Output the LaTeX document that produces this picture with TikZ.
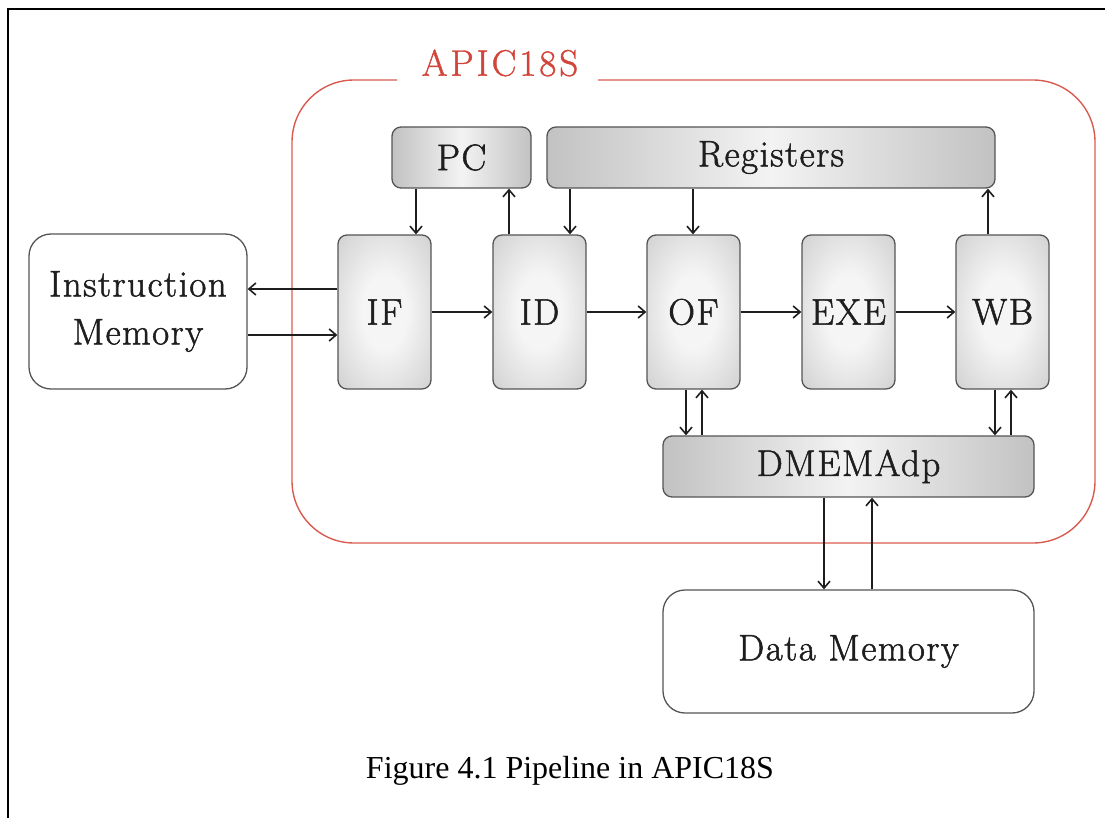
\documentclass[tikz,border=0pt]{standalone}
\usepackage{fontspec}
\usetikzlibrary{arrows.meta}
\newfontfamily\boxfont{Latin Modern Roman}[LetterSpace=4, FakeBold=1.4]
\newfontfamily\titlefont{Latin Modern Roman}[LetterSpace=8, FakeBold=1.2]
\newfontfamily\capfont{Liberation Serif}

\definecolor{inkc}{HTML}{1E1E1E}
\definecolor{edgec}{HTML}{555555}
\definecolor{apicred}{HTML}{D95A4E}
\definecolor{apiclabel}{HTML}{D2453A}
\definecolor{stagein}{HTML}{F5F5F5}
\definecolor{stageout}{HTML}{BBBBBB}
\definecolor{barside}{HTML}{C2C2C2}
\definecolor{barmid}{HTML}{F3F3F3}

% soft glow for the pipeline stage boxes
\pgfdeclareradialshading{stageglow}{\pgfpoint{0bp}{0bp}}{color(0bp)=(stagein); color(12bp)=(stagein); color(50bp)=(stageout); color(75bp)=(stageout)}

\tikzset{
  labelfont/.style={font={\boxfont\fontsize{37}{48}\selectfont}, text=inkc},
  stage/.style={labelfont, draw=edgec, line width=1.3pt, rounded corners=9pt,
    shading=stageglow, minimum width=93pt, minimum height=154pt, inner sep=0pt},
  bar/.style={labelfont, draw=edgec, line width=1.3pt, rounded corners=9pt,
    left color=barside, right color=barside, middle color=barmid,
    minimum height=61pt, inner sep=0pt},
  memory/.style={labelfont, draw=edgec, line width=1.3pt, rounded corners=22pt,
    fill=white, inner sep=0pt, align=center},
  arr/.style={draw=inkc, line width=1.6pt, -{Straight Barb[length=7pt,width=12pt]}}
}

\begin{document}
\begin{tikzpicture}[x=1pt, y=-1pt]
\useasboundingbox (0,0) rectangle (1105,818);

% page frame
\draw[line width=2.6pt] (8,818) -- (8,9) -- (1105,9);

% processor outline with its title
\node[font={\titlefont\fontsize{37}{42}\selectfont}, text=apiclabel] (apic) at (500,63) {APIC18S};
\draw[apicred, line width=1.4pt, rounded corners=62pt]
  (397,80) -- (292,80) -- (292,543) -- (1095,543) -- (1095,80) -- (598,80);

% blocks
\node[memory, minimum width=218pt, minimum height=155pt] (imem) at (138,311.5) {Instruction\\Memory};
\node[stage] (IF)  at (384.5,312) {IF};
\node[stage] (ID)  at (539.5,312) {ID};
\node[stage] (OF)  at (693.5,312) {OF};
\node[stage] (EXE) at (848.5,312) {EXE};
\node[stage] (WB)  at (1002.5,312) {WB};
\node[bar, minimum width=139pt] (PC)  at (461.5,157.5) {PC};
\node[bar, minimum width=448pt] (reg) at (771,157.5) {Registers};
\node[bar, minimum width=371pt] (dmad) at (848.5,466.5) {DMEMAdp};
\node[memory, minimum width=371pt, minimum height=123pt] (dmem) at (848.5,651.5) {Data Memory};

% connector columns and rows
\coordinate (xPCin)   at (416,0);
\coordinate (xPCout)  at (509,0);
\coordinate (xRegID)  at (570,0);
\coordinate (xRegOF)  at (693,0);
\coordinate (xWBreg)  at (988,0);
\coordinate (xOFdown) at (686,0);
\coordinate (xOFup)   at (702,0);
\coordinate (xWBdown) at (995,0);
\coordinate (xWBup)   at (1011,0);
\coordinate (xDMdown) at (824,0);
\coordinate (xDMup)   at (872,0);
\coordinate (yFetch)  at (0,289);
\coordinate (yInstr)  at (0,335);

% instruction fetch
\draw[arr] (IF.west |- yFetch) -- (imem.east |- yFetch);
\draw[arr] (imem.east |- yInstr) -- (IF.west |- yInstr);

% pipeline flow
\draw[arr] (IF.east) -- (ID.west);
\draw[arr] (ID.east) -- (OF.west);
\draw[arr] (OF.east) -- (EXE.west);
\draw[arr] (EXE.east) -- (WB.west);

% program counter and register file
\draw[arr] (PC.south -| xPCin) -- (IF.north -| xPCin);
\draw[arr] (ID.north -| xPCout) -- (PC.south -| xPCout);
\draw[arr] (reg.south -| xRegID) -- (ID.north -| xRegID);
\draw[arr] (reg.south -| xRegOF) -- (OF.north -| xRegOF);
\draw[arr] (WB.north -| xWBreg) -- (reg.south -| xWBreg);

% data memory adapter
\draw[arr] (OF.south -| xOFdown) -- (dmad.north -| xOFdown);
\draw[arr] (dmad.north -| xOFup) -- (OF.south -| xOFup);
\draw[arr] (WB.south -| xWBdown) -- (dmad.north -| xWBdown);
\draw[arr] (dmad.north -| xWBup) -- (WB.south -| xWBup);
\draw[arr] (dmad.south -| xDMdown) -- (dmem.north -| xDMdown);
\draw[arr] (dmem.north -| xDMup) -- (dmad.south -| xDMup);

% caption
\node[font={\capfont\fontsize{32}{38}\selectfont}, anchor=base, text=black, inner sep=0pt] (cap) at (570,778) {Figure 4.1 Pipeline in APIC18S};
\end{tikzpicture}
\end{document}
